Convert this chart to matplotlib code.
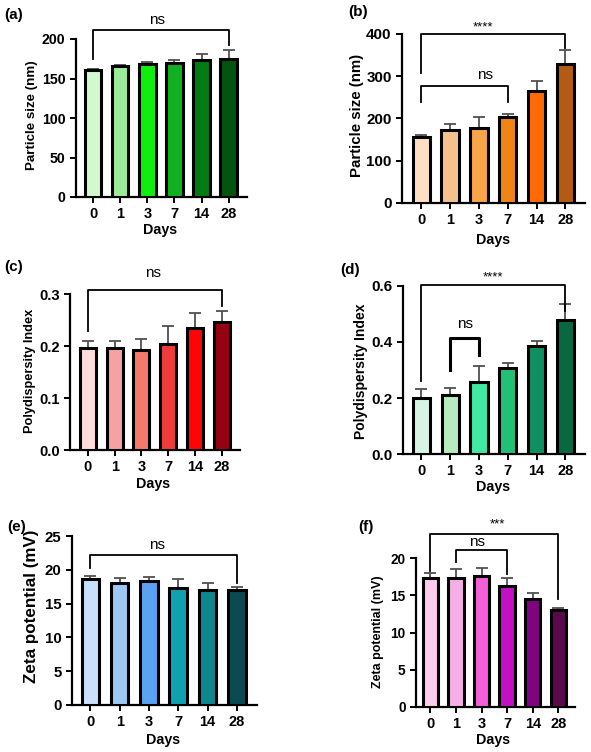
import matplotlib
matplotlib.use("Agg")
import matplotlib.pyplot as plt
import numpy as np

plt.rcParams["font.family"] = ["Liberation Sans", "DejaVu Sans"]

W, H = 591, 752

days = ["0", "1", "3", "7", "14", "28"]

# (a) particle size, formulation 1
size_a = [161, 166, 168, 169, 174, 175]
size_a_err = [1, 1, 3, 5, 7, 11]
# (b) particle size, formulation 2
size_b = [157, 173, 177, 203, 265, 329]
size_b_err = [5, 15, 27, 8, 24, 34]
# (c) PDI, formulation 1
pdi_c = [0.196, 0.196, 0.192, 0.204, 0.235, 0.247]
pdi_c_err = [0.014, 0.014, 0.021, 0.035, 0.028, 0.020]
# (d) PDI, formulation 2
pdi_d = [0.200, 0.209, 0.257, 0.306, 0.387, 0.477]
pdi_d_err = [0.032, 0.028, 0.059, 0.020, 0.017, 0.060]
# (e) zeta potential, formulation 1
zeta_e = [18.64, 18.05, 18.34, 17.26, 17.06, 16.96]
zeta_e_err = [0.39, 0.69, 0.64, 1.33, 0.99, 0.44]
# (f) zeta potential, formulation 2
zeta_f = [17.30, 17.30, 17.63, 16.24, 14.45, 13.02]
zeta_f_err = [0.73, 1.20, 1.07, 1.06, 0.81, 0.22]

# brackets: (start bar, end bar, top, left leg end, right leg end, text, text x, text y)
brackets_a = [(0, 5, 211, 175, 193, "ns", 2.36, 224)]
brackets_b = [(0, 5, 400, 307, 366, "****", 2.15, 416), (0, 3, 277, 239, 239, "ns", 2.2, 304)]
brackets_c = [(0, 5, 0.308, 0.229, 0.276, "ns", 2.44, 0.34)]
brackets_d = [(0, 5, 0.605, 0.259, 0.511, "****", 2.48, 0.632),
              (1, 2, 0.413, 0.30, 0.353, "ns", 1.5, 0.466)]
brackets_e = [(0, 5, 22.19, 20.2, 18.0, "ns", 2.28, 23.7)]
brackets_f = [(0, 5, 23.27, 18.3, 14.5, "***", 2.63, 24.5),
              (1, 3, 21.1, 19.4, 17.9, "ns", 1.83, 22.2)]

colors_a = ["#d2f9ce", "#9ceb98", "#10ee10", "#10b020", "#007a12", "#02540e"]
colors_b = ["#fde0c4", "#f4c08c", "#f8a448", "#f08414", "#ff6a06", "#b45a12"]
colors_c = ["#ffdcdc", "#f6a2a2", "#f67a6c", "#ee3c3c", "#ff0404", "#960012"]
colors_d = ["#d6f4e4", "#b8ecbe", "#40e8a4", "#22c076", "#109060", "#0a6840"]
colors_e = ["#c8e0fa", "#9cc8f4", "#5aa2f2", "#10a0b0", "#10868e", "#0a4a52"]
colors_f = ["#fcccea", "#f6aee6", "#f45ed8", "#c012c2", "#800480", "#5a0a4c"]

panels = [
    # label, values, errs, colors, brackets, ylabel, yticks, ylim, box(l, r, top, bottom px), xlim
    ("(a)", size_a, size_a_err, colors_a, brackets_a, "Particle size (nm)",
     [0, 50, 100, 150, 200], (0, 200), (76, 247, 39, 197), (-0.64, 5.68)),
    ("(b)", size_b, size_b_err, colors_b, brackets_b, "Particle size (nm)",
     [0, 100, 200, 300, 400], (0, 400), (402, 585, 34, 203), (-0.67, 5.68)),
    ("(c)", pdi_c, pdi_c_err, colors_c, brackets_c, "Polydispersity Index",
     [0.0, 0.1, 0.2, 0.3], (0, 0.3), (70, 240, 294, 450), (-0.67, 5.69)),
    ("(d)", pdi_d, pdi_d_err, colors_d, brackets_d, "Polydispersity Index",
     [0.0, 0.2, 0.4, 0.6], (0, 0.6), (403, 585, 286, 454), (-0.64, 5.68)),
    ("(e)", zeta_e, zeta_e_err, colors_e, brackets_e, "Zeta potential (mV)",
     [0, 5, 10, 15, 20, 25], (0, 25), (72, 257, 536, 705), (-0.63, 5.69)),
    ("(f)", zeta_f, zeta_f_err, colors_f, brackets_f, "Zeta potential (mV)",
     [0, 5, 10, 15, 20], (0, 20), (416, 575, 558, 707), (-0.56, 5.65)),
]

label_pos = [(4, 15), (348, 12), (4, 267), (340, 270), (7, 527), (358, 527)]
ylabel_pos = [(32, 115), (357, 115), (30.5, 371), (361, 371), (32, 606), (378, 632)]
ylabel_len = [110, 123, 125, 135, 153, 112]   # px length of the rotated label
xlabel_pos = [(160, 230), (493, 240), (153, 484), (493, 487), (163, 740), (493, 740)]
ytick_size = [10.2, 10.9, 10.7, 10.9, 10.8, 9.8]
ytick_fmt = ["{:.0f}", "{:.0f}", "{:.1f}", "{:.1f}", "{:.0f}", "{:.0f}"]

fig = plt.figure(figsize=(W / 100, H / 100), dpi=100)
renderer = fig.canvas.get_renderer()

for i, (lab, vals, errs, cols, brks, ylab, yt, yl, box, xl) in enumerate(panels):
    l, r, t, b = box
    ax = fig.add_axes([l / W, 1 - b / H, (r - l) / W, (b - t) / H])
    x = np.arange(len(days))
    ax.errorbar(x, vals, yerr=[np.zeros(len(errs)), errs], fmt="none",
                ecolor="#505050", elinewidth=1.3, capsize=4, capthick=1.3, zorder=2)
    ax.bar(x, vals, width=0.6, color=cols, edgecolor="black", linewidth=2.2, zorder=3)
    ax.set_xlim(*xl)
    ax.set_ylim(*yl)
    ax.set_xticks(x)
    ax.set_xticklabels(days)
    ax.set_yticks(yt)
    ax.set_yticklabels([ytick_fmt[i].format(v) for v in yt])
    for s in ["top", "right"]:
        ax.spines[s].set_visible(False)
    for s in ["left", "bottom"]:
        ax.spines[s].set_linewidth(1.6)
    ax.tick_params(axis="y", width=1.4, length=4, labelsize=ytick_size[i])
    ax.tick_params(axis="x", width=1.4, length=4, labelsize=10.5)
    for tl in ax.get_xticklabels() + ax.get_yticklabels():
        tl.set_fontweight("bold")

    # axis titles placed to match the reference
    yt_txt = fig.text(ylabel_pos[i][0] / W, 1 - ylabel_pos[i][1] / H, ylab, rotation=90,
                      ha="center", va="center", fontsize=10, fontweight="bold")
    ext = yt_txt.get_window_extent(renderer)
    yt_txt.set_fontsize(10 * ylabel_len[i] / ext.height)
    fig.text(xlabel_pos[i][0] / W, 1 - xlabel_pos[i][1] / H, "Days",
             ha="center", va="center", fontsize=10.3, fontweight="bold")

    for x0, x1, ytop, yl0, yl1, txt, tx, ty in brks:
        lw = 2.2 if (i == 3 and txt == "ns") else 1.3
        ax.plot([x0, x0, x1, x1], [yl0, ytop, ytop, yl1], color="black",
                lw=lw, clip_on=False, zorder=4)
        ax.text(tx, ty, txt, ha="center", va="center",
                fontsize=11 if txt == "ns" else 9.5, clip_on=False)
    fig.text(label_pos[i][0] / W, 1 - label_pos[i][1] / H, lab, fontsize=11,
             fontweight="bold", ha="left", va="center")

fig.savefig("out.png", dpi=100)
